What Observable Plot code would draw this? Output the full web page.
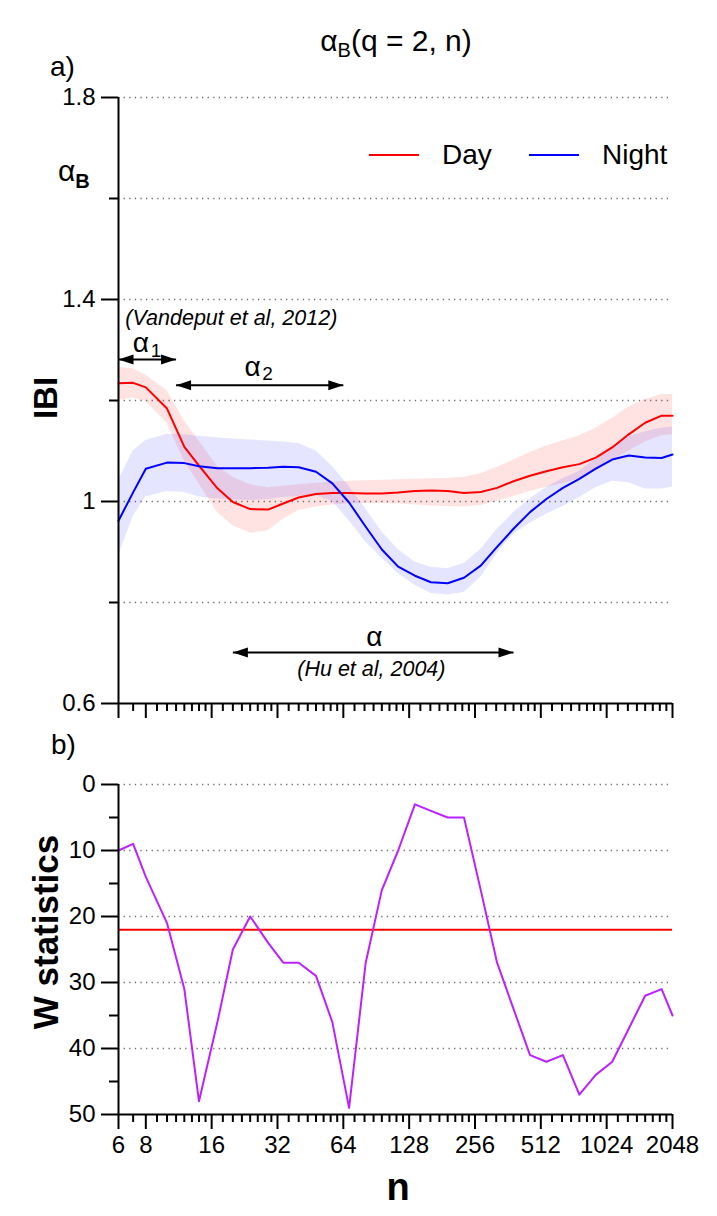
<!DOCTYPE html>
<html><head><meta charset="utf-8">
<script src="https://cdn.jsdelivr.net/npm/d3@7"></script>
<script src="https://cdn.jsdelivr.net/npm/@observablehq/plot@0.6"></script>
<style>
body{margin:0;background:#fff;}
#wrap{position:relative;width:717px;height:1216px;font-family:"Liberation Sans",Arial,sans-serif;color:#000;}
.abs{position:absolute;white-space:nowrap;line-height:1;}
#topPlot,#botPlot{position:absolute;left:0;}
#topPlot{top:0;} #botPlot{top:740px;}
.rot{position:absolute;transform:translate(-50%,-50%) rotate(-90deg);font-weight:bold;white-space:nowrap;line-height:1;}
</style></head><body><div id="wrap">
<div id="topPlot"></div><div id="botPlot"></div>
</div>
<script>
// ---- data ----
const nValues   = [6,7,8,10,12,14,17,20,24,29,34,40,48,57,68,81,96,114,136,161,192,228,272,323,384,457,543,646,768,913,1086,1292,1536,1827,2048];
const dayMean   = [1.234,1.235,1.226,1.184,1.108,1.071,1.026,0.999,0.985,0.984,0.996,1.008,1.015,1.017,1.017,1.016,1.016,1.018,1.021,1.022,1.021,1.017,1.019,1.027,1.040,1.051,1.060,1.068,1.074,1.087,1.107,1.133,1.156,1.170,1.170];
const dayHi     = [1.266,1.263,1.250,1.220,1.160,1.120,1.070,1.048,1.033,1.027,1.030,1.033,1.036,1.038,1.040,1.041,1.042,1.043,1.044,1.045,1.046,1.048,1.055,1.068,1.082,1.097,1.110,1.120,1.130,1.145,1.165,1.187,1.202,1.212,1.212];
const dayLo     = [1.200,1.205,1.198,1.155,1.080,1.035,0.978,0.952,0.937,0.942,0.965,0.982,0.989,0.993,0.995,0.996,0.996,0.995,0.993,0.991,0.990,0.989,0.992,1.000,1.010,1.020,1.028,1.035,1.045,1.060,1.081,1.100,1.118,1.130,1.132];
const nightMean = [0.962,1.018,1.065,1.077,1.076,1.070,1.066,1.066,1.066,1.067,1.069,1.068,1.059,1.036,0.998,0.950,0.905,0.871,0.853,0.840,0.838,0.849,0.873,0.910,0.946,0.979,1.005,1.027,1.045,1.065,1.083,1.091,1.087,1.086,1.093];
const nightHi   = [1.042,1.100,1.121,1.133,1.132,1.129,1.126,1.124,1.122,1.120,1.118,1.115,1.100,1.070,1.030,0.985,0.940,0.905,0.880,0.870,0.867,0.877,0.905,0.945,0.978,1.005,1.028,1.045,1.060,1.085,1.110,1.128,1.138,1.145,1.148];
const nightLo   = [0.893,0.970,1.009,1.020,1.018,1.009,1.005,1.003,1.002,1.004,1.008,1.010,1.012,1.000,0.962,0.920,0.888,0.857,0.834,0.818,0.815,0.820,0.850,0.897,0.935,0.957,0.975,0.990,1.008,1.027,1.040,1.037,1.025,1.025,1.028];
const wStat     = [10,9,14,21,31,48,36,25,20,24,27,27,29,36,49,27,16,10,3,4,5,5,16,27,34,41,42,41,47,44,42,37,32,31,35];
const wThreshold = 22;

const xMajorTicks = [6,8,16,32,64,128,256,512,1024,2048];
const yTopMajor = [0.6,1,1.4,1.8];
const yTopMinor = [0.8,1.2,1.6];
const yTopGrid  = [0.8,1,1.2,1.4,1.6,1.8];
const yBotMajor = [0,10,20,30,40,50];
const yBotMinor = [5,15,25,35,45];
const yBotGrid  = [0,10,20,30,40];

// annotation ranges (n) and levels
const arrowsTop = [
  {a: 6,  b: 11,  y: 1.281},
  {a: 11, b: 64,  y: 1.230},
  {a: 20, b: 384, y: 0.701}
];
const greekLabels = [
  {n: 7.6,  y: 1.313, sub: "1"},
  {n: 24.6, y: 1.266, sub: "2"},
  {n: 88.6, y: 0.731, sub: ""}
];
const citeVandeput = [{n: 6.45, y: 1.3625, text: "(Vandeput et al, 2012)"}];
const citeHu = [{n: 86, y: 0.668, text: "(Hu et al, 2004)"}];

// minor log ticks (k * 2^m)
const xMinorTicks = [7];
for (let m = 3; m <= 10; m++) for (let k = 9; k <= 15; k++) xMinorTicks.push(k * 2 ** (m - 3));

const rows = nValues.map((n, i) => ({n, day: dayMean[i], dayHi: dayHi[i], dayLo: dayLo[i],
  night: nightMean[i], nightHi: nightHi[i], nightLo: nightLo[i], w: wStat[i]}));

const FONT = '"Liberation Sans", Arial, sans-serif';
const arrowHead = {draw(ctx) { ctx.moveTo(0, 0); ctx.lineTo(-15, -5); ctx.lineTo(-15, 5); ctx.closePath(); }};
const heads = arrowsTop.flatMap(d => [{n: d.a, y: d.y, r: 180}, {n: d.b, y: d.y, r: 0}]);

const grid = {stroke: "#6e6e6e", strokeOpacity: 1, strokeWidth: 1.3, strokeDasharray: "1.3 4.3"};

const topChart = Plot.plot({
  width: 717, height: 740,
  marginTop: 97, marginBottom: 37, marginLeft: 118, marginRight: 45,
  x: {type: "log", base: 2, domain: [6, 2048], label: null},
  y: {domain: [0.6, 1.8], label: null},
  style: {fontFamily: FONT, fontSize: "24px", color: "black", background: "transparent", overflow: "visible"},
  marks: [
    Plot.gridY(yTopGrid, grid),
    Plot.areaY(rows, {x: "n", y1: "dayLo", y2: "dayHi", fill: "#ff0000", fillOpacity: 0.11}),
    Plot.areaY(rows, {x: "n", y1: "nightLo", y2: "nightHi", fill: "#0000ff", fillOpacity: 0.1}),
    Plot.line(rows, {x: "n", y: "day", stroke: "#ff0000", strokeWidth: 2}),
    Plot.line(rows, {x: "n", y: "night", stroke: "#0000ff", strokeWidth: 2}),
    Plot.ruleX([6], {stroke: "black", strokeWidth: 2}),
    Plot.ruleY([0.6], {stroke: "black", strokeWidth: 2}),
    Plot.axisY(yTopMajor, {tickSize: 17, tickPadding: 6, strokeWidth: 2, tickFormat: d => String(d), fontSize: 24, label: null}),
    Plot.axisY(yTopMinor, {tickSize: 9, strokeWidth: 2, fill: "none", label: null}),
    Plot.axisX(xMajorTicks, {tickSize: 15, strokeWidth: 2, fill: "none", label: null}),
    Plot.axisX(xMinorTicks, {tickSize: 8, strokeWidth: 2, fill: "none", label: null}),
    Plot.link(arrowsTop, {x1: "a", x2: "b", y1: "y", y2: "y", stroke: "black", strokeWidth: 2}),
    Plot.dot(heads, {x: "n", y: "y", rotate: "r", symbol: arrowHead, fill: "black", stroke: "none"}),
    Plot.text(greekLabels, {x: "n", y: "y", text: () => "α", fontSize: 28, fontFamily: FONT}),
    Plot.text(greekLabels, {x: "n", y: "y", text: "sub", dx: 15, dy: 7, fontSize: 19, fontFamily: FONT}),
    Plot.text(citeVandeput, {x: "n", y: "y", text: "text", textAnchor: "start", fontSize: 21.5, fontStyle: "italic", fontFamily: FONT}),
    Plot.text(citeHu, {x: "n", y: "y", text: "text", textAnchor: "middle", fontSize: 21.5, fontStyle: "italic", fontFamily: FONT})
  ]
});
document.getElementById("topPlot").appendChild(topChart);

const botChart = Plot.plot({
  width: 717, height: 476,
  marginTop: 44, marginBottom: 102, marginLeft: 118, marginRight: 45,
  x: {type: "log", base: 2, domain: [6, 2048], label: null},
  y: {domain: [0, 50], reverse: true, label: null},
  style: {fontFamily: FONT, fontSize: "24px", color: "black", background: "transparent", overflow: "visible"},
  marks: [
    Plot.gridY(yBotGrid, grid),
    Plot.ruleY([wThreshold], {stroke: "#ff0000", strokeWidth: 2}),
    Plot.line(rows, {x: "n", y: "w", stroke: "#bb22ff", strokeWidth: 2}),
    Plot.ruleX([6], {stroke: "black", strokeWidth: 2}),
    Plot.ruleY([50], {stroke: "black", strokeWidth: 2}),
    Plot.axisY(yBotMajor, {tickSize: 17, tickPadding: 6, strokeWidth: 2, tickFormat: d => String(d), fontSize: 24, label: null}),
    Plot.axisY(yBotMinor, {tickSize: 9, strokeWidth: 2, fill: "none", label: null}),
    Plot.axisX(xMajorTicks, {tickSize: 15, tickPadding: 6, strokeWidth: 2, tickFormat: d => String(d), fontSize: 24, label: null}),
    Plot.axisX(xMinorTicks, {tickSize: 8, strokeWidth: 2, fill: "none", label: null})
  ]
});
document.getElementById("botPlot").appendChild(botChart);

// ---- HTML text: title, panel letters, axis titles, legend ----
const wrap = document.getElementById("wrap");
function add(html, css) { const d = document.createElement("div"); d.className = "abs"; d.innerHTML = html; Object.assign(d.style, css); wrap.appendChild(d); return d; }
add('α<sub style="font-size:20px;vertical-align:-6px">B</sub>(q = 2, n)', {left: "396px", top: "43px", fontSize: "30px", transform: "translate(-50%,-50%)"});
add('a)', {left: "50px", top: "67px", fontSize: "28px", transform: "translate(0,-50%)"});
add('b)', {left: "51px", top: "745px", fontSize: "28px", transform: "translate(0,-50%)"});
add('α<span style="font-size:20px;font-weight:bold;vertical-align:-7px">B</span>', {left: "58px", top: "173px", fontSize: "30px", transform: "translate(0,-50%)"});
add('n', {left: "398px", top: "1187px", fontSize: "38px", fontWeight: "bold", transform: "translate(-50%,-50%)"});
const r1 = document.createElement("div"); r1.className = "rot"; r1.textContent = "IBI"; Object.assign(r1.style, {left: "45px", top: "398px", fontSize: "33px"}); wrap.appendChild(r1);
const r2 = document.createElement("div"); r2.className = "rot"; r2.textContent = "W statistics"; Object.assign(r2.style, {left: "45px", top: "932px", fontSize: "35px"}); wrap.appendChild(r2);
// legend
const legendItems = [{label: "Day", color: "#ff0000", x: 369}, {label: "Night", color: "#0000ff", x: 529}];
for (const it of legendItems) {
  add('', {left: it.x + "px", top: "154px", width: "50px", height: "0", borderTop: "2px solid " + it.color});
  add(it.label, {left: (it.x + 73) + "px", top: "155px", fontSize: "28px", transform: "translate(0,-50%)"});
}
</script>
</body></html>
